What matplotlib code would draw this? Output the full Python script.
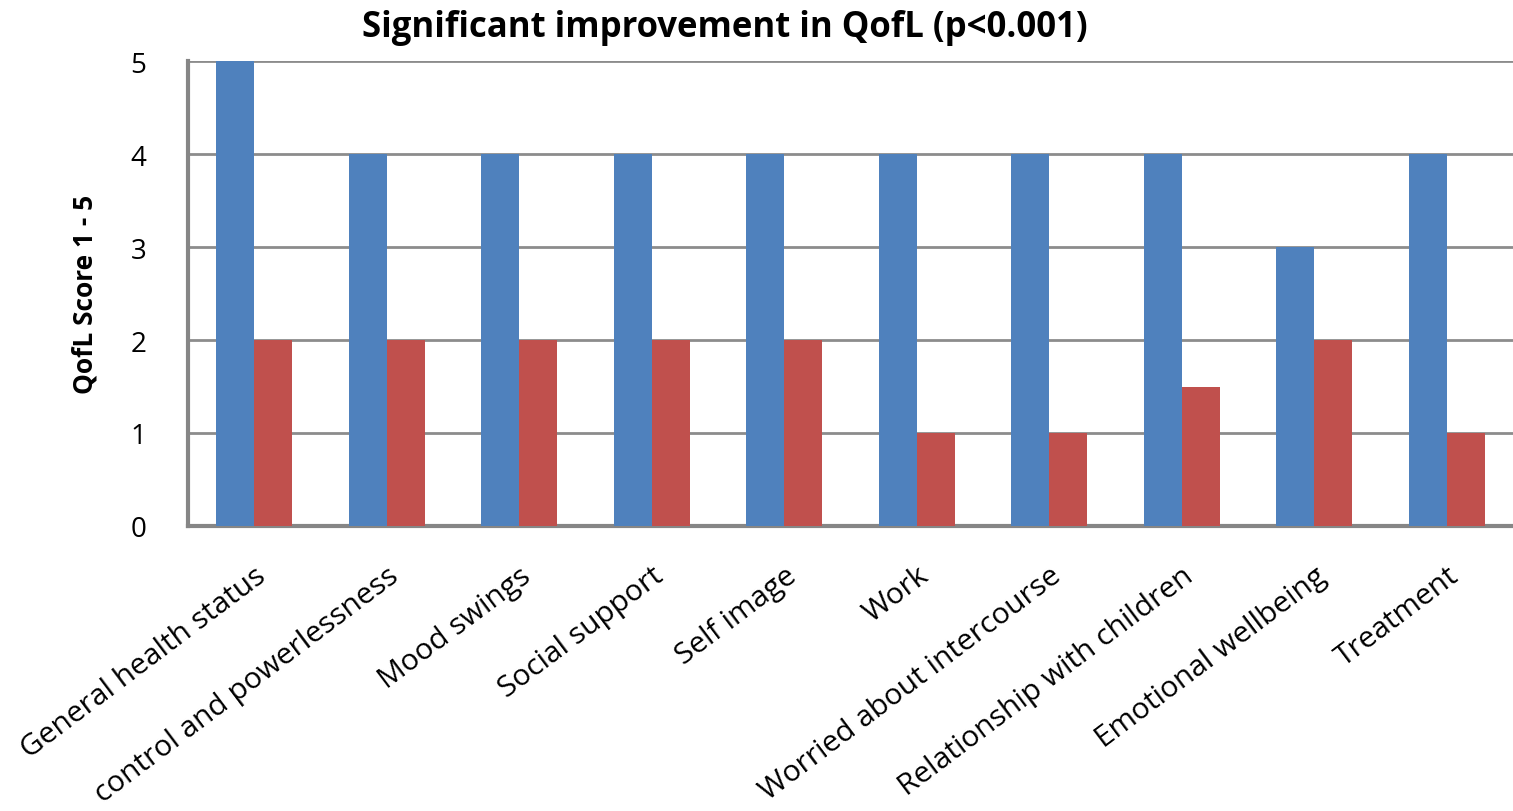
import matplotlib.pyplot as plt
import numpy as np

categories = ["General health status", "control and powerlessness", "Mood swings",
              "Social support", "Self image", "Work", "Worried about intercourse",
              "Relationship with children", "Emotional wellbeing", "Treatment"]
before = [5, 4, 4, 4, 4, 4, 4, 4, 3, 4]
after = [2, 2, 2, 2, 2, 1, 1, 1.5, 2, 1]

plt.rcParams['font.family'] = ['Open Sans', 'DejaVu Sans']

fig = plt.figure(figsize=(15.13, 8.12), dpi=100)
ax = fig.add_axes([0.1243, 0.351, 0.8757, 0.5726])

x = np.arange(len(categories))
w = 0.287
ax.bar(x - w / 2, before, w, color='#4F81BD', zorder=3)
ax.bar(x + w / 2, after, w, color='#C0504D', zorder=3)

ax.set_xlim(-0.5, len(categories) - 0.5)
ax.set_ylim(0, 5)
ax.set_yticks([0, 1, 2, 3, 4, 5])
ax.yaxis.grid(True, color='#8C8C8C', linewidth=2, zorder=0)
ax.set_axisbelow(True)

for s in ['top', 'right']:
    ax.spines[s].set_visible(False)
for s in ['left', 'bottom']:
    ax.spines[s].set_color('#868686')
    ax.spines[s].set_linewidth(3)

ax.tick_params(axis='y', length=0, pad=30, labelsize=20)
ax.tick_params(axis='x', length=0, pad=25, labelsize=21.5)
ax.set_xticks(x)
ax.set_xticklabels(categories, rotation=37, ha='right', rotation_mode='anchor')

fig.text(0.479, 0.966, "Significant improvement in QofL (p<0.001)",
         ha='center', va='center', fontsize=25, fontweight='bold')
fig.text(0.056, 0.637, "QofL Score 1 - 5", ha='center', va='center',
         rotation=90, fontsize=19, fontweight='bold')

plt.savefig("out.png", dpi=100)
